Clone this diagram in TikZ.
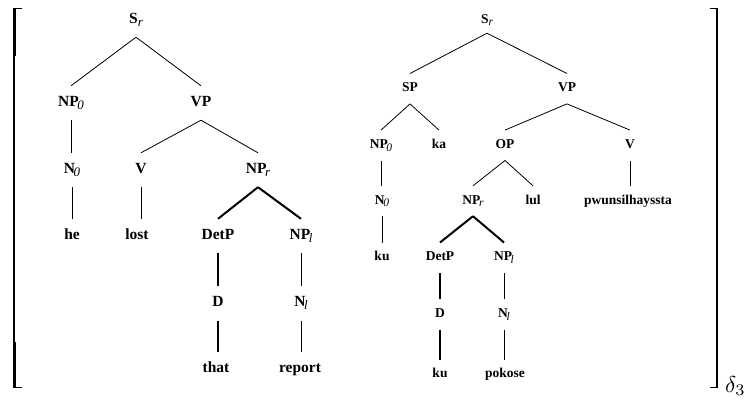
\documentclass[tikz,border=0pt]{standalone}
\usepackage{fontspec}
\setmainfont{Liberation Serif}
% italic subscripts tucked under the preceding capital
\newcommand\subL[1]{\kern-0.1em\raisebox{-0.22em}{\normalfont\itshape\fontsize{13}{13}\selectfont #1}}
\newcommand\subLs[1]{\raisebox{-0.22em}{\normalfont\itshape\fontsize{13}{13}\selectfont #1}}
\newcommand\subR[1]{\kern-0.1em\raisebox{-0.22em}{\normalfont\itshape\fontsize{11.5}{11.5}\selectfont #1}}
\newcommand\subRs[1]{\raisebox{-0.22em}{\normalfont\itshape\fontsize{11.5}{11.5}\selectfont #1}}
\begin{document}
\begin{tikzpicture}[x=1pt,y=-1pt,
  lt/.style={anchor=base, inner xsep=1pt, inner ysep=0pt, text height=20pt, text depth=14pt,
             font=\fontsize{15.5}{18}\selectfont\bfseries},
  rt/.style={anchor=base, inner xsep=1pt, inner ysep=0pt, text height=18pt, text depth=12pt,
             font=\fontsize{13.5}{16}\selectfont\bfseries},
  branch/.style={line width=0.8pt},
  heavy/.style={line width=2pt},
  bracketline/.style={line width=1.2pt, line cap=butt, line join=miter},
  bracketend/.style={line width=2.2pt, line cap=butt},
]
\useasboundingbox (0,0) rectangle (747,402);

% ---------------- left tree (English) ----------------
\node[lt, text depth=13.5pt] (lS) at (136,23.5) {S\subLs{r}};
\node[lt] (lNP0) at (71,106) {NP\subL{0}};
\node[lt] (lVP)  at (201,106) {VP};
\node[lt] (lN0)  at (72,173) {N\subL{0}};
\node[lt] (lV)   at (141,173) {V};
\node[lt] (lNPr) at (258,173) {NP\subL{r}};
\node[lt] (lhe)  at (72,239) {he};
\node[lt] (llost) at (137,239) {lost};
\node[lt] (lDetP) at (218,239) {DetP};
\node[lt] (lNPl) at (301,239) {NP\subL{l}};
\node[lt] (lD)   at (218,306.5) {D};
\node[lt] (lNl)  at (301,306.5) {N\subL{l}};
\node[lt] (lthat) at (216,372) {that};
\node[lt] (lreport) at (300,372) {report};

\draw[branch] (lS.south) -- (lNP0.north);
\draw[branch] (lS.south) -- (lVP.north);
\draw[branch] (lVP.south) -- (lV.north);
\draw[branch] (lVP.south) -- (lNPr.north);
\draw[branch] (lNP0.south) -- (lNP0.south |- lN0.north);
\draw[branch] (lN0.south) -- (lN0.south |- lhe.north);
\draw[branch] (lV.south) -- (lV.south |- llost.north);
\draw[heavy] (lNPr.south) -- (lDetP.north);
\draw[heavy] (lNPr.south) -- (lNPl.north);
\draw[heavy] (lDetP.south) -- (lDetP.south |- lD.north);
\draw[heavy] (lD.south) -- (lD.south |- lthat.north);
\draw[branch] (lNPl.south) -- (lNPl.south |- lNl.north);
\draw[branch] (lNl.south) -- (lNl.south |- lreport.north);

% ---------------- right tree (Korean) ----------------
\node[rt, text depth=10pt] (rS) at (487,23) {S\subRs{r}};
\node[rt] (rSP)  at (410,91.7) {SP};
\node[rt] (rVP)  at (567,91.7) {VP};
\node[rt] (rNP0) at (381,148.3) {NP\subR{0}};
\node[rt] (rka)  at (439,148.3) {ka};
\node[rt] (rOP)  at (505,148.3) {OP};
\node[rt] (rV)   at (630,148.3) {V};
\node[rt] (rN0)  at (382,204) {N\subR{0}};
\node[rt] (rNPr) at (473,204) {NP\subR{r}};
\node[rt] (rlul) at (533,204) {lul};
\node[rt] (rverb) at (628,204) {pwunsilhayssta};
\node[rt] (rku)  at (382,260.7) {ku};
\node[rt] (rDetP) at (440,260.7) {DetP};
\node[rt] (rNPl) at (504,260.7) {NP\subR{l}};
\node[rt] (rD)   at (440,317.3) {D};
\node[rt] (rNl)  at (504,317.3) {N\subR{l}};
\node[rt] (rkuD) at (440,377.7) {ku};
\node[rt] (rpokose) at (505,377.7) {pokose};

\draw[branch] (rS.south) -- (rSP.north);
\draw[branch] (rS.south) -- (rVP.north);
\draw[branch] (rSP.south) -- (rNP0.north);
\draw[branch] (rSP.south) -- (rka.north);
\draw[branch] (rVP.south) -- (rOP.north);
\draw[branch] (rVP.south) -- (rV.north);
\draw[branch] (rOP.south) -- (rNPr.north);
\draw[branch] (rOP.south) -- (rlul.north);
\draw[branch] (rNP0.south) -- (rNP0.south |- rN0.north);
\draw[branch] (rN0.south) -- (rN0.south |- rku.north);
\draw[branch] (rV.south) -- (rV.south |- rverb.north);
\draw[heavy] (rNPr.south) -- (rDetP.north);
\draw[heavy] (rNPr.south) -- (rNPl.north);
\draw[heavy] (rDetP.south) -- (rDetP.south |- rD.north);
\draw[heavy] (rD.south) -- (rD.south |- rkuD.north);
\draw[branch] (rNPl.south) -- (rNPl.south |- rNl.north);
\draw[branch] (rNl.south) -- (rNl.south |- rpokose.north);

% ---------------- enclosing brackets ----------------
\draw[bracketline] (21.5,8.6) -- (14,8.6) -- (14,387.4) -- (21.5,387.4);
\draw[bracketend] (14.4,8) -- (14.4,56);
\draw[bracketend] (14.4,342) -- (14.4,388);
\draw[bracketline] (709.5,8.6) -- (717,8.6) -- (717,387.4) -- (709.5,387.4);
\draw[bracketend] (716.6,8) -- (716.6,56);
\draw[bracketend] (716.6,342) -- (716.6,388);
\node[anchor=base west, inner sep=0pt] (delta) at (725,392) {\scalebox{2.3}{$\delta_3$}};
\end{tikzpicture}
\end{document}
